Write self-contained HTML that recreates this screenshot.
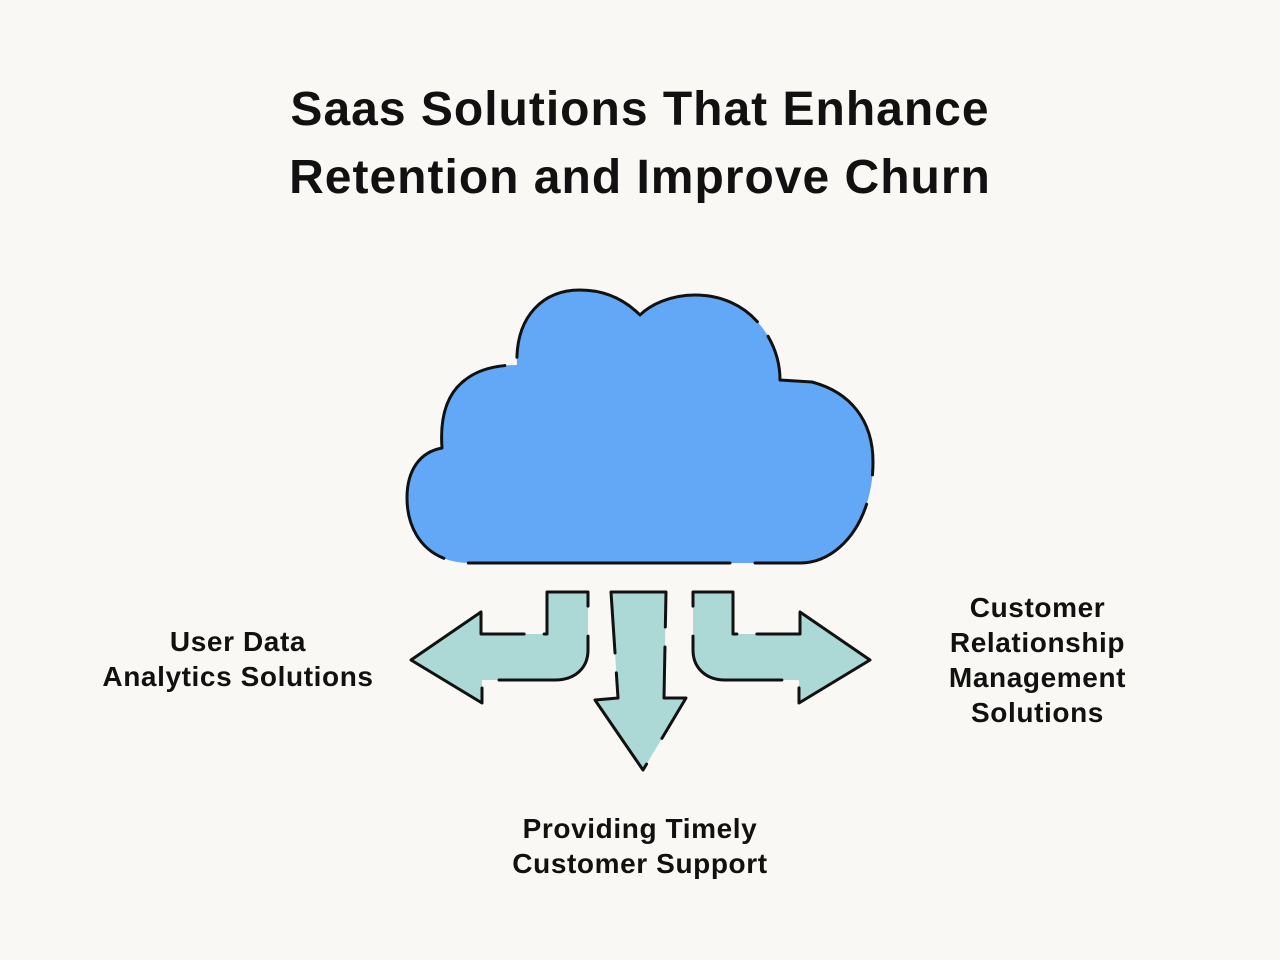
<!DOCTYPE html>
<html><head><style>
html,body{margin:0;padding:0;background:#f9f8f4;}
body{width:1280px;height:960px;position:relative;overflow:hidden;font-family:"Liberation Sans",sans-serif;}
.t{position:absolute;font-weight:bold;color:#111;text-align:center;}
.l{font-size:28px;line-height:35px;letter-spacing:0.6px;}
</style></head><body>
<div class="t" style="left:0;width:1280px;top:76px;font-size:48px;line-height:68px;letter-spacing:1px;">Saas Solutions That Enhance<br>Retention and Improve Churn</div>
<div class="t l" style="left:88px;width:300px;top:624px;">User Data<br>Analytics Solutions</div>
<div class="t l" style="left:890px;width:295px;top:590px;">Customer<br>Relationship<br>Management<br>Solutions</div>
<div class="t l" style="left:490px;width:300px;top:811px;">Providing Timely<br>Customer Support</div>
<svg width="1280" height="960" style="position:absolute;left:0;top:0" fill="none" stroke="#111" stroke-width="3" stroke-linecap="round" stroke-linejoin="round">
<path d="M470,563 L800,563 C840,563 873,520 873,462 C873,420 850,392 812,382 L780,380 C780,340 750,295 695,295 C670,295 650,305 640,315 C625,300 605,290 580,290 C540,290 515,320 517,365 C500,365 480,368 465,380 C445,395 440,420 442,448 C420,452 407,470 407,498 C407,535 430,563 470,563 Z" fill="#62a8f7" stroke-dasharray="260 25 140 30 200 18 300 20"/>
<path d="M411,660 L481,612 L481,634 L547,634 L547,592 L588,592 L588,650 C588,668 575,680 555,680 L482,680 L482,703 Z" fill="#acd9d5" stroke-dasharray="150 20 100 30 120 25"/>
<path d="M611,592 L666,592 L664,698 L686,698 L643,770 L595,700 L618,698 Z" fill="#acd9d5" stroke-dasharray="90 20 120 30 140 20"/>
<path d="M870,660 L800,612 L800,634 L733,634 L733,592 L693,592 L693,650 C693,668 706,680 725,680 L799,680 L799,703 Z" fill="#acd9d5" stroke-dasharray="150 20 100 30 120 25"/>
</svg>
</body></html>
